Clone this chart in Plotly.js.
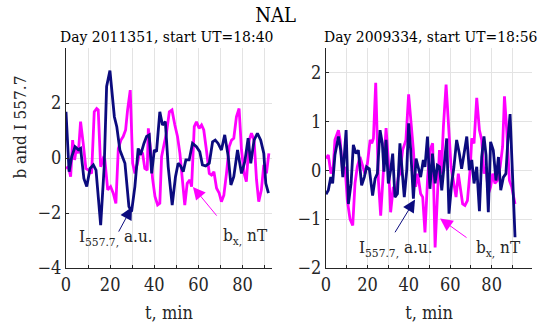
<!DOCTYPE html>
<html><head><meta charset="utf-8">
<script src="https://cdn.plot.ly/plotly-3.0.1.min.js"></script>
<style>html,body{margin:0;padding:0;background:#fff}</style>
</head><body><div id="plot" style="width:551px;height:329px"></div>
<script>
// Left panel: Day 2011351
const tLeftI = [0,1.4,2.6,4.1,5.6,6.6,8.1,9.4,10.9,12.4,13.6,15.7,17.3,18.4,19.9,21.9,23,24.4,26.7,28.5,29.7,31.2,32.7,33.8,35.3,36.5,37.7,38.8,40,41,42.5,43.7,45,46.3,48.1,49.6,50.8,51.9,53.1,54.3,55.8,57.3,59.1,60.6,61.8,63.3,64.9,66.4,67.6,68.9,70.4,71.9,73.5,74.7,76,77.7,79.5,81,82.5,83.7,85.2,86.7,88.2,89.6,90.5,91.7];
const leftI = [1.68,-0.5,0.05,0.41,0.3,0.35,-0.74,-1.04,-0.38,-0.25,-0.44,-2.44,-0.32,2.6,3.18,1.5,1.14,0.29,-0.19,-1.77,-1.95,-1.04,0.35,0.11,0.53,0.78,0.84,-0.56,0.29,0.23,1.68,1.2,1.32,-0.32,-1.71,-0.68,-0.19,-0.29,-0.5,-0.07,-0.07,0.53,0.41,0.23,-0.25,-0.29,-0.19,0.59,0.65,0.53,0.29,0.84,0.05,-0.98,-0.68,0.29,-0.56,-0.13,0.72,-0.19,0.65,0.9,0.65,0.17,-0.92,-1.28];
const tLeftB = [0,1.1,2.1,3,3.9,4.8,5.6,6.6,7.8,9,10.1,11.6,12.8,13.9,14.6,15.7,16.9,17.6,18.9,20.2,21.4,22.6,23.7,24.9,25.9,27,27.9,29.1,30.2,31.2,32.4,33.5,34.7,35.7,36.8,37.3,38.3,39.2,40.3,41.5,42.5,43.3,44.5,45.5,46.8,48,49.3,50.5,51.6,52.8,53.8,54.9,56.1,56.9,58.1,59.1,60.3,61.4,62.4,63.6,64.9,65.9,67,68.2,69.4,70.4,71.5,72.7,73.9,75,76,77.2,78.4,79.5,80.7,81.7,83,84,85.2,86.3,87.3,88.5,89.6,90.8,91.9];
const leftB = [-0.38,-0.32,-0.68,0.65,-0.07,0.41,0.17,1.32,0.53,-0.38,-0.44,-0.56,1.68,1.8,1.75,-0.32,-0.01,-0.07,-1.16,-1.04,-1.28,-1.65,0.35,0.65,0.78,1.02,1.75,2.47,-0.19,-0.56,-0.19,0.29,0.17,-0.38,-0.44,1.08,0.29,-0.74,-1.4,-1.71,-1.65,0.05,0.53,0.9,1.68,1.75,1.2,0.78,0.17,-0.8,-1.71,-0.92,-0.8,-1.04,1.14,1.32,1.08,1.2,1.02,0.29,-0.56,-0.62,-0.5,-1.1,-1.28,-1.59,-1.35,-0.56,0.41,0.65,0.72,1.5,1.8,0.29,-0.56,-0.86,0.65,0.9,0.65,-0.8,-1.59,-1.16,-0.25,-0.56,0.17];
// Right panel: Day 2009334
const tRightI = [0,1.1,2.3,3.2,4.3,6,7.1,8.1,9.7,10.8,12.1,13.2,14.5,15.6,17.2,18.5,19.6,20.9,22.5,23.7,24.8,26.1,27.2,28,29,30.1,31.2,32.2,33.3,34.5,35.7,36.9,37.8,39,39.9,40.9,42.2,43.5,44.6,45.7,47,47.8,49,50.2,51.4,52.7,53.8,54.8,55.9,57,58.3,59.4,60.7,61.8,63.1,64.4,65.5,66.7,68,69.2,70.4,71.5,72.8,74.1,75.2,76.3,77.3,78.4,79.5,80.8,82.1,83.3,84.4,85.7,86.9,87.8,88.9,90.2,91.3];
const rightI = [-0.49,-0.41,-0.14,-0.27,0.31,0.69,0.41,-0.14,0.82,-0.69,-0.27,0.52,0.34,0.41,-0.31,-0.14,0.07,0.03,-0.52,-0.17,-0.07,0.82,0.55,-0.03,0.62,-0.27,0,0.34,-0.55,-0.48,0.55,-0.21,-0.55,0,0.96,0.41,-0.58,0.24,0.07,-0.14,0.21,0.07,0.69,-0.38,0.34,-0.27,0.1,0.07,-0.41,0.14,0.65,-0.89,-0.27,0.07,0.62,0.34,0.03,0.34,0.69,0,0.21,-0.27,0.07,-0.84,0.27,0.69,0.31,-0.86,0.58,0.41,-0.21,0.27,-0.41,-0.14,-0.07,0.58,1.15,-0.21,-1.37];
const tRightB = [0,1.1,2.4,3.5,4.3,6,6.8,8.1,9.2,10.3,11.6,12.9,14,15.1,16.4,17.7,18.8,20,21.3,22.1,22.9,24,25.3,26.4,27.7,29,30.1,31.2,32.5,33.8,34.9,35.7,37,38.6,39.9,41.1,42.2,43.3,44.3,45.7,46.7,47.8,49.1,50.2,51.5,52.7,53.8,54.8,55.7,56.7,58,59.3,60.4,61.5,62.8,63.9,64.7,66,67.1,68.3,69.6,70.4,71.5,72.8,74.1,75.2,76.3,77.3,78.4,79.5,80.5,81.6,82.8,84.1,85.3,86.2,87.3,88.6,89.7,91.3];
const rightB = [0.24,0.31,-0.07,0.07,0.62,0.82,0.62,-0.07,0.07,-0.62,-1.0,-1.13,-0.27,0.07,0.27,0.07,-0.07,0.14,0.62,0.55,0.65,1.79,-0.21,-0.93,-0.07,0.86,0.21,-0.86,-0.34,-0.48,-0.14,-0.07,0.41,0.62,1.55,1.03,0.41,-0.34,-0.07,-0.48,-0.55,-1.27,-0.14,0.41,0.55,-1.58,-0.41,0.41,-0.07,0.89,1.75,0.76,0.07,-0.21,-0.55,-0.07,-0.34,-0.69,-0.72,-0.62,0,0.65,0.55,1.48,0.82,0.62,-0.07,0.07,-0.48,-0.34,-0.07,-0.27,-0.21,0.07,0.48,1.51,0.82,-0.21,-0.34,-0.69];

const mainTitle = 'NAL';
const panelTitles = ['Day 2011351, start UT=18:40', 'Day 2009334, start UT=18:56'];
const xTitle = 't, min';
const yTitle = 'b and I 557.7';
const labI = 'I<sub>557.7,</sub> a.u.';
const labB = 'b<sub>x,</sub> nT';

const NAVY = '#0b0b7e', MAG = '#ff00ff';
const TXT = '#262626';
function F(size, color){ return {family:'DejaVu Serif Condensed', size, color: color || TXT}; }

const traces = [
  {x: tLeftB, y: leftB, xaxis:'x', yaxis:'y', mode:'lines', line:{color:MAG, width:2.8}},
  {x: tLeftI, y: leftI, xaxis:'x', yaxis:'y', mode:'lines', line:{color:NAVY, width:2.8}},
  {x: tRightB, y: rightB, xaxis:'x2', yaxis:'y2', mode:'lines', line:{color:MAG, width:2.8}},
  {x: tRightI, y: rightI, xaxis:'x2', yaxis:'y2', mode:'lines', line:{color:NAVY, width:2.8}}
];

function xax(domain, range, anchor){
  return {domain, range, anchor, dtick:20, tick0:0, ticks:'inside', ticklen:3, tickcolor:TXT,
    showgrid:true, gridcolor:'#e3e3e3', gridwidth:1,
    minor:{dtick:10, tick0:0, showgrid:true, gridcolor:'#e3e3e3', ticks:'inside', ticklen:3, tickcolor:TXT},
    showline:true, linecolor:TXT, linewidth:1, zeroline:false,
    tickfont:F(18),
    title:{text:xTitle, font:F(18), standoff:12}};
}
function yax(range, tickvals, anchor){
  return {domain:[0,1], range, anchor, tickvals, ticks:'inside', ticklen:3, tickcolor:TXT,
    showgrid:true, gridcolor:'#e3e3e3', gridwidth:1,
    showline:true, linecolor:TXT, linewidth:1, zeroline:false,
    tickfont:F(18)};
}

const annotations = [
  {text: panelTitles[0], xref:'paper', yref:'paper', x:0.215, y:1.0, yanchor:'bottom', xanchor:'center', showarrow:false, font:F(15.5,'#000')},
  {text: panelTitles[1], xref:'paper', yref:'paper', x:0.782, y:1.0, yanchor:'bottom', xanchor:'center', showarrow:false, font:F(15.5,'#000')},
  {text: yTitle, xref:'paper', yref:'paper', x:-0.098, y:0.64, textangle:-90, xanchor:'center', yanchor:'middle', showarrow:false, font:F(17)},
  // arrows
  {xref:'x', yref:'y', axref:'x', ayref:'y', x:29.9, y:-1.78, ax:23.5, ay:-2.73, text:'', showarrow:true, arrowhead:2, arrowsize:2.5, arrowwidth:1, arrowcolor:NAVY},
  {xref:'x', yref:'y', axref:'x', ayref:'y', x:57.5, y:-1.05, ax:68.8, ay:-2.15, text:'', showarrow:true, arrowhead:2, arrowsize:2.5, arrowwidth:1, arrowcolor:MAG},
  {xref:'x2', yref:'y2', axref:'x2', ayref:'y2', x:43, y:-0.6, ax:32.9, ay:-1.3, text:'', showarrow:true, arrowhead:2, arrowsize:2.5, arrowwidth:1, arrowcolor:NAVY},
  {xref:'x2', yref:'y2', axref:'x2', ayref:'y2', x:55.1, y:-0.99, ax:68.6, ay:-1.4, text:'', showarrow:true, arrowhead:2, arrowsize:2.5, arrowwidth:1, arrowcolor:MAG},
  // labels
  {xref:'x', yref:'y', x:22.5, y:-2.9, text:labI, showarrow:false, font:F(17), xanchor:'center', yanchor:'middle'},
  {xref:'x', yref:'y', x:81.5, y:-2.85, text:labB, showarrow:false, font:F(17), xanchor:'center', yanchor:'middle'},
  {xref:'x2', yref:'y2', x:34, y:-1.6, text:labI, showarrow:false, font:F(17), xanchor:'center', yanchor:'middle'},
  {xref:'x2', yref:'y2', x:83.5, y:-1.6, text:labB, showarrow:false, font:F(17), xanchor:'center', yanchor:'middle'}
];

const layout = {
  width:551, height:329, showlegend:false,
  paper_bgcolor:'#fff', plot_bgcolor:'#fff',
  margin:{l:66, r:19, t:48, b:61},
  title:{text:mainTitle, x:0.5, xanchor:'center', y:0.955, yanchor:'middle', font:F(20,'#000')},
  xaxis: xax([0,0.442],[0,93.3],'y'),
  yaxis: yax([-4,4],[-4,-2,0,2],'x'),
  xaxis2: xax([0.558,1],[0,99.5],'y2'),
  yaxis2: yax([-2,2.5],[-2,-1,0,1,2],'x2'),
  annotations
};
Plotly.newPlot('plot', traces, layout, {staticPlot:true, displayModeBar:false});
</script></body></html>
